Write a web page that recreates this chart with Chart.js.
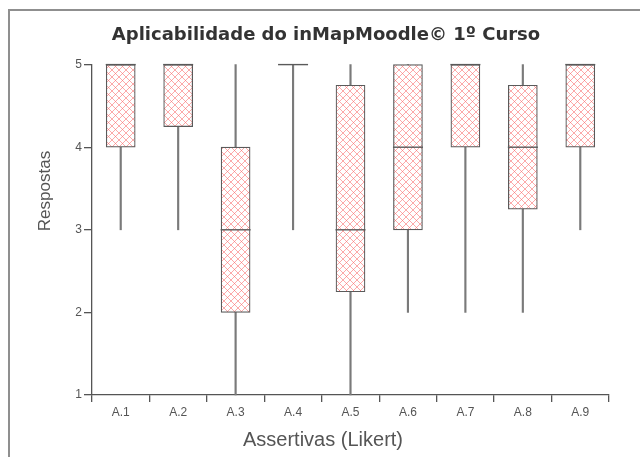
<!DOCTYPE html>
<html>
<head>
<meta charset="utf-8">
<script src="https://cdn.jsdelivr.net/npm/chart.js@4"></script>
<style>
html,body{margin:0;padding:0;background:#fff;}
#wrap{width:640px;height:457px;position:relative;}
</style>
</head>
<body>
<div id="wrap"><canvas id="c" width="640" height="457"></canvas></div>
<script>
// ---- data ----
const categories = ['A.1','A.2','A.3','A.4','A.5','A.6','A.7','A.8','A.9'];
const minimums  = [3, 3, 1, 3, 1, 2, 2, 2, 3];
const quartile1 = [4, 4.25, 2, 5, 2.25, 3, 4, 3.25, 4];
const medians   = [5, 5, 3, 5, 3, 4, 5, 4, 5];
const quartile3 = [5, 5, 4, 5, 4.75, 5, 5, 4.75, 5];
const maximums  = [5, 5, 5, 5, 5, 5, 5, 5, 5];
const yTicks    = [1, 2, 3, 4, 5];
const chartTitle = 'Aplicabilidade do inMapMoodle\u00A9 1\u00BA Curso';
const xTitle = 'Assertivas (Likert)';
const yTitle = 'Respostas';

// hatch pattern
function makeHatch(){
  const s = 7;
  const pc = document.createElement('canvas');
  pc.width = s; pc.height = s;
  const p = pc.getContext('2d');
  p.fillStyle = '#ffffff';
  p.fillRect(0,0,s,s);
  p.strokeStyle = 'rgba(250,100,100,0.55)';
  p.lineWidth = 1;
  p.beginPath();
  p.moveTo(-1,-1); p.lineTo(s+1,s+1);
  p.moveTo(s+1,-1); p.lineTo(-1,s+1);
  p.stroke();
  return document.getElementById('c').getContext('2d').createPattern(pc,'repeat');
}
const hatch = makeHatch();

const framePlugin = {
  id: 'frameAndTitles',
  beforeDraw(chart){
    const ctx = chart.ctx;
    ctx.save();
    ctx.strokeStyle = '#8f8f8f';
    ctx.lineWidth = 2;
    ctx.beginPath();
    ctx.moveTo(9, chart.height + 5);
    ctx.lineTo(9, 10);
    ctx.lineTo(chart.width + 5, 10);
    ctx.stroke();
    ctx.restore();
  },
  afterDraw(chart){
    const ctx = chart.ctx;
    ctx.save();
    ctx.fillStyle = '#555';
    ctx.font = '20px "Liberation Sans", Arial, sans-serif';
    ctx.textAlign = 'center';
    ctx.textBaseline = 'middle';
    ctx.fillText(xTitle, 323, 440);
    ctx.translate(45, 191);
    ctx.rotate(-Math.PI/2);
    ctx.font = '17px "Liberation Sans", Arial, sans-serif';
    ctx.fillText(yTitle, 0, 0);
    ctx.restore();
  }
};

new Chart(document.getElementById('c'), {
  type: 'bar',
  data: {
    labels: categories,
    datasets: [
      {
        label: 'whisker',
        data: minimums.map((m,i)=>[m, maximums[i]]),
        backgroundColor: '#7a7a7a',
        borderWidth: 0,
        barThickness: 1.5,
        grouped: false,
        order: 3,
        clip: false
      },
      {
        label: 'box',
        data: quartile1.map((q,i)=>[q, quartile3[i]]),
        backgroundColor: hatch,
        borderColor: '#5a5a5a',
        borderWidth: 1.2,
        borderSkipped: false,
        barThickness: 29,
        grouped: false,
        order: 2,
        clip: false
      },
      {
        type: 'line',
        label: 'median',
        data: medians,
        showLine: false,
        pointStyle: 'line',
        pointRadius: 15,
        pointHoverRadius: 15,
        borderColor: '#5a5a5a',
        borderWidth: 1.4,
        order: 1,
        clip: false
      }
    ]
  },
  options: {
    responsive: false,
    animation: false,
    events: [],
    layout: { padding: { left: 43, right: 31, top: 0, bottom: 0 } },
    plugins: {
      legend: { display: false },
      tooltip: { enabled: false },
      title: {
        display: true,
        text: chartTitle,
        color: '#333',
        font: { family: '"DejaVu Sans", Verdana, sans-serif', size: 18, weight: 'bold' },
        padding: { top: 25, bottom: 18 }
      }
    },
    scales: {
      x: {
        type: 'category',
        offset: true,
        afterFit(scale){ scale.height = 62; },
        grid: { display: true, drawOnChartArea: false, drawTicks: true, tickLength: 7, color: '#555', lineWidth: 1.3, offset: true },
        border: { display: true, color: '#555', width: 1.3 },
        ticks: { color: '#555', font: { family: '"Liberation Sans", Arial, sans-serif', size: 12 }, padding: 3 }
      },
      y: {
        min: 1, max: 5,
        afterFit(scale){ scale.width = 49; },
        afterBuildTicks(scale){ scale.ticks = yTicks.map(v=>({value:v})); },
        grid: { display: true, drawOnChartArea: false, drawTicks: true, tickLength: 8, color: '#555', lineWidth: 1.3 },
        border: { display: true, color: '#555', width: 1.3 },
        ticks: { color: '#555', font: { family: '"Liberation Sans", Arial, sans-serif', size: 12 }, padding: 2 }
      }
    }
  },
  plugins: [framePlugin]
});
</script>
</body>
</html>
